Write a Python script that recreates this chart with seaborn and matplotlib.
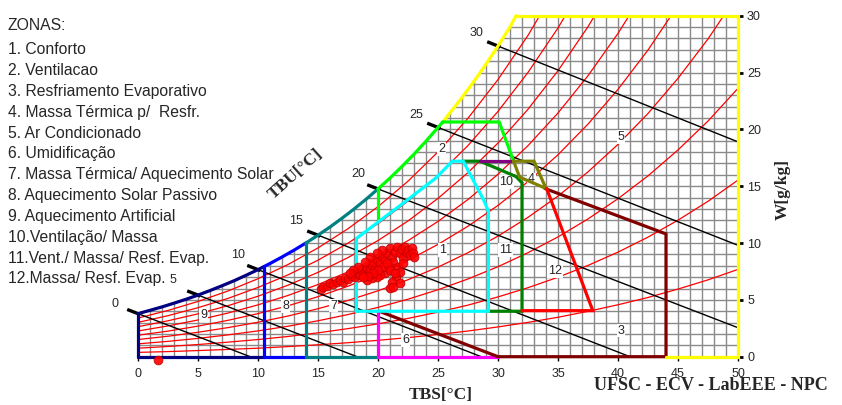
import numpy as np
import pandas as pd
import seaborn as sns
import matplotlib.pyplot as plt
from matplotlib.patches import Polygon

# --- saturation curve (TBS in C, W in g/kg) read along the chart edge ---
sat_t = [0, 1, 2, 3, 4, 5, 6, 7, 8, 9, 10, 10.5, 11, 12, 13, 14, 15, 16, 17, 18, 19, 20,
         21, 22, 23, 24, 25, 25.4, 26, 27, 28, 29, 30, 31, 31.5]
sat_w = [3.79, 4.08, 4.38, 4.71, 5.05, 5.42, 5.82, 6.24, 6.68, 7.16, 7.66, 7.93, 8.20, 8.77, 9.37,
         10.01, 10.69, 11.41, 12.18, 12.99, 13.85, 14.76, 15.72, 16.74, 17.82, 18.96, 20.17, 20.65,
         21.45, 22.80, 24.23, 25.74, 27.33, 29.01, 30.0]

# --- relative humidity curves 10% .. 90% ---
rh_t = [0, 2.5, 5, 7.5, 10, 12.5, 15, 17.5, 20, 22.5, 25, 27.5, 30, 32.5, 35, 37.5, 40, 42.5, 45, 47.5, 50]
rh10 = [0.38, 0.45, 0.54, 0.64, 0.75, 0.89, 1.05, 1.23, 1.44, 1.68, 1.95, 2.26, 2.62, 3.02, 3.47, 3.99, 4.57, 5.21, 5.95, 6.76, 7.68]
rh20 = [0.75, 0.90, 1.07, 1.28, 1.51, 1.78, 2.10, 2.47, 2.89, 3.37, 3.92, 4.54, 5.26, 6.07, 6.99, 8.03, 9.20, 10.52, 12.01, 13.67, 15.54]
rh30 = [1.13, 1.35, 1.61, 1.92, 2.27, 2.68, 3.16, 3.71, 4.34, 5.06, 5.89, 6.84, 7.92, 9.15, 10.54, 12.12, 13.90, 15.91, 18.19, 20.73, 23.61]
rh40 = [1.51, 1.80, 2.15, 2.56, 3.03, 3.58, 4.22, 4.95, 5.80, 6.77, 7.88, 9.15, 10.61, 12.26, 14.13, 16.26, 18.68, 21.40, 24.49, 27.95, 31.88]
rh50 = [1.89, 2.25, 2.69, 3.20, 3.79, 4.48, 5.28, 6.20, 7.26, 8.48, 9.88, 11.48, 13.31, 15.40, 17.77, 20.46, 23.52, 26.98, 30.92]
rh60 = [2.26, 2.71, 3.23, 3.84, 4.56, 5.39, 6.35, 7.46, 8.74, 10.21, 11.90, 13.83, 16.05, 18.57, 21.44, 24.72, 28.44, 32.66]
rh70 = [2.64, 3.16, 3.77, 4.49, 5.32, 6.29, 7.42, 8.72, 10.22, 11.94, 13.93, 16.20, 18.80, 21.77, 25.16, 29.03, 33.44]
rh80 = [3.02, 3.61, 4.31, 5.13, 6.09, 7.20, 8.49, 9.99, 11.70, 13.69, 15.97, 18.58, 21.58, 25.01, 28.92, 33.40]
rh90 = [3.40, 4.07, 4.86, 5.78, 6.86, 8.11, 9.57, 11.26, 13.20, 15.44, 18.02, 20.98, 24.38, 28.27, 32.73]

# --- wet bulb lines (TBU): point on saturation and end point ---
tbu = [0, 5, 10, 15, 20, 25, 30]
tbu_t0 = [0, 5, 10, 15, 20, 25, 30]
tbu_w0 = [3.79, 5.42, 7.66, 10.69, 14.76, 20.17, 27.33]
tbu_t1 = [9.35, 18.25, 28.6, 41.0, 50, 50, 50]
tbu_w1 = [0, 0, 0, 0, 2.55, 9.8, 18.9]
tbu_lab_t = [-1.9, 2.95, 8.3, 13.2, 18.4, 23.2, 28.2]
tbu_lab_w = [4.6, 6.75, 8.95, 11.9, 16.05, 21.3, 28.5]

# --- zone boundaries ---
cyan_t = [18.2, 18.2, 20.2, 22.1, 23.5, 24.8, 26.2, 27.1, 28.8, 29.2, 29.2, 18.2]
cyan_w = [4.0, 10.4, 12.0, 13.5, 14.65, 15.7, 17.2, 17.2, 13.8, 12.8, 4.0, 4.0]
dgreen_t = [27.1, 28.5, 31.5, 32, 32, 29.2]
dgreen_w = [17.2, 17.2, 15.85, 15.3, 4.0, 4.0]
purple_t = [28.5, 31.3]
purple_w = [17.2, 17.2]
olive_t = [31.3, 33.0, 34.0, 31.8, 31.3]
olive_w = [17.2, 17.2, 14.8, 15.8, 17.2]
red_t = [32, 37.9, 34.05]
red_w = [4.05, 4.05, 14.8]
maroon_t = [20.1, 30, 44, 44, 33.9]
maroon_w = [4.0, 0, 0, 10.8, 14.8]
green_top_t = [25.4, 30.1, 31.3]
green_top_w = [20.65, 20.65, 17.2]
yellow_t = [31.5, 50, 50, 44]
yellow_w = [30, 30, 0, 0]

# zone number labels
zone_lab = ['1', '2', '3', '4', '5', '6', '7', '8', '9', '10', '11', '12']
zone_lab_t = [25.4, 25.3, 40.25, 32.8, 40.25, 22.3, 16.3, 12.3, 5.45, 30.7, 30.6, 34.75]
zone_lab_w = [9.4, 18.3, 2.3, 15.6, 19.35, 1.5, 4.5, 4.45, 3.7, 15.4, 9.4, 7.5]

# --- measured points ---
pts_t = [15.22, 15.44, 15.78, 16.0, 16.28, 16.56, 16.83, 17.06, 17.25, 17.53, 17.81, 18.08, 18.22, 18.5,
         18.64, 18.92, 19.06, 19.33, 19.47, 19.75, 19.61, 19.94, 20.17, 20.31, 20.58, 20.72, 20.86, 21.0,
         21.14, 21.28, 21.42, 21.56, 21.69, 21.83, 21.97, 22.11, 22.25, 22.39, 22.53, 22.67, 22.81, 22.94,
         23.0, 22.11, 21.83, 21.5, 21.14, 21.0, 21.28, 21.83, 20.58, 20.17, 19.89, 19.47, 19.06, 20.44,
         20.03, 19.61, 19.19, 18.78, 20.72, 20.31, 19.89, 19.33, 18.92, 18.36, 17.94, 17.67, 21.0, 21.42, 1.7]
pts_w = [5.93, 6.16, 6.22, 6.45, 6.40, 6.60, 6.75, 6.54, 6.89, 6.81, 7.10, 6.98, 7.33, 7.19,
         7.63, 7.39, 7.77, 7.63, 8.07, 7.77, 8.36, 8.57, 8.21, 8.86, 8.51, 9.15, 7.92, 9.53,
         8.80, 8.36, 9.24, 9.68, 7.92, 9.09, 9.45, 8.65, 9.68, 9.09, 9.39, 8.95, 9.53, 9.15,
         8.80, 8.21, 7.48, 7.04, 6.60, 6.01, 6.16, 6.45, 7.33, 7.19, 7.04, 6.89, 6.75, 7.92,
         7.63, 7.33, 7.10, 6.98, 8.21, 9.39, 9.09, 8.80, 8.36, 7.92, 7.63, 7.33, 7.63, 7.33, -0.25]

zonas = ["1. Conforto", "2. Ventilacao", "3. Resfriamento Evaporativo", "4. Massa Térmica p/  Resfr.",
         "5. Ar Condicionado", "6. Umidificação", "7. Massa Térmica/ Aquecimento Solar",
         "8. Aquecimento Solar Passivo", "9. Aquecimento Artificial", "10.Ventilação/ Massa",
         "11.Vent./ Massa/ Resf. Evap.", "12.Massa/ Resf. Evap."]

# --- figure ---
sns.set_theme(style="white")
plt.rcParams['font.family'] = ['Liberation Sans', 'DejaVu Sans']

W_PX, H_PX = 842, 405
fig = plt.figure(figsize=(W_PX / 100, H_PX / 100), dpi=100)
ax = fig.add_axes([138 / W_PX, 1 - 356.7 / H_PX, 600 / W_PX, 341 / H_PX])
ax.set_xlim(0, 50)
ax.set_ylim(0, 30)
for s in ax.spines.values():
    s.set_visible(False)

sat = pd.DataFrame({'T': sat_t, 'W': sat_w})

# grid only below the saturation curve
clip = Polygon([(0, 0)] + list(zip(sat_t, sat_w)) + [(50, 30), (50, 0)], closed=True,
               transform=ax.transData, facecolor='none', edgecolor='none')
ax.add_patch(clip)
vl = ax.vlines(np.arange(0, 51), 0, 30, color='#8a8a8a', lw=1.0, zorder=1)
hl = ax.hlines(np.arange(0, 31), 0, 50, color='#8a8a8a', lw=1.0, zorder=1)
vl.set_clip_path(clip)
hl.set_clip_path(clip)

# RH curves
rh_rows = []
for lvl, ws in zip(range(10, 100, 10), [rh10, rh20, rh30, rh40, rh50, rh60, rh70, rh80, rh90]):
    for t, w in zip(rh_t, ws):
        rh_rows.append((lvl, t, w))
rh_df = pd.DataFrame(rh_rows, columns=['rh', 'T', 'W'])
sns.lineplot(data=rh_df, x='T', y='W', units='rh', estimator=None, color='#ff0000',
             lw=0.9, ax=ax, legend=False, zorder=2)

# wet bulb lines, with a thick stub just outside the saturation curve
for i in range(len(tbu)):
    ax.plot([tbu_t0[i], tbu_t1[i]], [tbu_w0[i], tbu_w1[i]], color='black', lw=1.0, zorder=2)
    dt = tbu_t1[i] - tbu_t0[i]
    dw = tbu_w1[i] - tbu_w0[i]
    k = 0.9 / dt
    ax.plot([tbu_t0[i] - dt * k, tbu_t0[i] + 0.2],
            [tbu_w0[i] - dw * k, tbu_w0[i] + dw * 0.2 / dt],
            color='black', lw=2.4, zorder=3, clip_on=False, solid_capstyle='butt')
    ax.text(tbu_lab_t[i], tbu_lab_w[i], str(tbu[i]), fontsize=9, ha='center', va='center')

for lab, t, w in zip(zone_lab, zone_lab_t, zone_lab_w):
    ax.text(t, w, lab, fontsize=9, ha='center', va='center', zorder=3,
            bbox=dict(facecolor='white', edgecolor='none', pad=0.6))

LW = 2.3
def zline(t, w, c):
    ax.plot(t, w, color=c, lw=LW, zorder=4, clip_on=False, solid_joinstyle='miter')

def sat_seg(a, b, c):
    seg = sat[(sat['T'] >= a) & (sat['T'] <= b)]
    zline(seg['T'], seg['W'], c)

# 9 aquecimento artificial
zline([0, 0], [0, sat_w[0]], '#000080')
sat_seg(0, 10.5, '#000080')
zline([0, 10.5], [0, 0], '#000080')
# 8 aquecimento solar passivo
zline([10.5, 10.5], [0, 7.93], '#0000ff')
sat_seg(10.5, 14, '#0000ff')
zline([10.5, 14], [0, 0], '#0000ff')
# 7 massa termica / aquecimento solar
zline([14, 14], [0, 10.01], '#008080')
sat_seg(14, 20, '#008080')
zline([14, 20], [0, 0], '#008080')
# 6 umidificacao
zline([20, 20], [0, 4], '#ff00ff')
zline([20, 30], [0, 0], '#ff00ff')
# 3 resfriamento evaporativo
zline(maroon_t, maroon_w, '#800000')
# 5 ar condicionado
sat_seg(25.4, 31.5, '#ffff00')
zline(yellow_t, yellow_w, '#ffff00')
# 2 ventilacao
zline([20, 20], [12.0, 14.76], '#00ff00')
sat_seg(20, 25.4, '#00ff00')
zline(green_top_t, green_top_w, '#00ff00')
# 10, 4, 12
zline(dgreen_t, dgreen_w, '#008000')
zline(purple_t, purple_w, '#800080')
zline(olive_t, olive_w, '#808000')
zline(red_t, red_w, '#ff0000')
# 1 conforto
zline(cyan_t, cyan_w, '#00ffff')

sns.scatterplot(x=pts_t, y=pts_w, color='#ff0000', s=40, edgecolor='#c00000', linewidth=0.6,
                alpha=0.9, ax=ax, zorder=5, clip_on=False)

# axes
ax.set_xticks(range(0, 51, 5))
ax.set_xticklabels([str(v) for v in range(0, 51, 5)])
ax.set_yticks(range(0, 31, 5))
ax.set_yticklabels([str(v) for v in range(0, 31, 5)])
ax.yaxis.tick_right()
ax.tick_params(axis='x', bottom=True, length=3, width=1, color='black', labelsize=9, pad=5)
ax.tick_params(axis='y', right=True, left=False, length=3.5, width=2, color='black', labelsize=9, pad=3)
ax.set_xlabel('')
ax.set_ylabel('')

serif = ['Liberation Serif', 'DejaVu Serif']
fig.text(441 / W_PX, 1 - 395 / H_PX, 'TBS[°C]', family=serif, weight='bold', size=12.5,
         ha='center', va='center')
fig.text(711 / W_PX, 1 - 386 / H_PX, 'UFSC - ECV - LabEEE - NPC', family=serif, weight='bold',
         size=13, ha='center', va='center',
         bbox=dict(facecolor='white', edgecolor='none', pad=0.0))
fig.text(783 / W_PX, 1 - 189 / H_PX, 'W[g/kg]', family=serif, weight='bold', size=12.5,
         ha='center', va='center', rotation=90)
fig.text(296 / W_PX, 1 - 174 / H_PX, 'TBU[°C]', family=serif, weight='bold', size=12.5,
         ha='center', va='center', rotation=42)

fig.text(8 / W_PX, 1 - 25 / H_PX, 'ZONAS:', fontsize=11.3, va='center', ha='left')
for i, z in enumerate(zonas):
    fig.text(8 / W_PX, 1 - (50 + 20.8 * i) / H_PX, z, fontsize=11.3, va='center', ha='left')

fig.savefig('out.png', dpi=100)
